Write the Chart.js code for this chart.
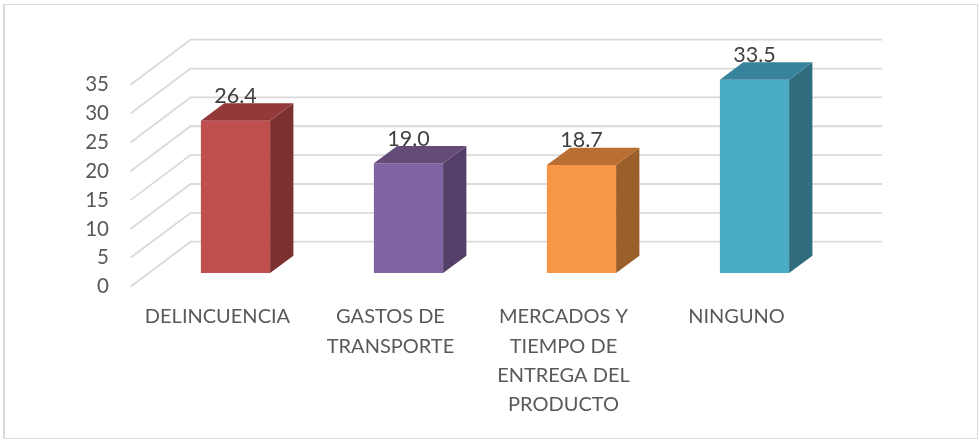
<!DOCTYPE html>
<html>
<head>
<meta charset="utf-8">
<style>
  html, body { margin: 0; padding: 0; background: #fff; }
  #wrap { width: 978px; height: 440px; }
</style>
<script src="https://cdn.jsdelivr.net/npm/chart.js@4/dist/chart.umd.min.js"></script>
</head>
<body>
<div id="wrap"><canvas id="chart" width="978" height="440"></canvas></div>
<script>
const categories = [
  ["DELINCUENCIA"],
  ["GASTOS DE", "TRANSPORTE"],
  ["MERCADOS Y", "TIEMPO DE", "ENTREGA DEL", "PRODUCTO"],
  ["NINGUNO"],
];
const values = [26.4, 19.0, 18.7, 33.5];
const yTicks = [0, 5, 10, 15, 20, 25, 30, 35];

const frontColors = ["#C0504D", "#8064A2", "#F79646", "#4BACC6"];
const topColors = ["#93393A", "#644B78", "#BA6F32", "#37839B"];
const sideColors = ["#7C302F", "#533F68", "#9B5F2A", "#2F6C7D"];

const FONT = "Lato, Carlito, sans-serif";
const GRID_COLOR = "#DADADA";

// profundidade da barra e da parede, em px
const BAR_DX = 23.3, BAR_DY = 17.3;
const WALL_DX = 60, WALL_DY = 45;
const WALL_LEFT = 130.5, WALL_RIGHT = 882;
const WALL_FRONT_OFFSET = 13.7; // o 0 da parede fica abaixo da base das barras

function poly(ctx, color, pts) {
  ctx.fillStyle = color;
  ctx.beginPath();
  pts.forEach((p, i) => (i ? ctx.lineTo(p[0], p[1]) : ctx.moveTo(p[0], p[1])));
  ctx.closePath();
  ctx.fill();
}

const frame3d = {
  id: "frame3d",
  beforeDraw(chart) {
    const ctx = chart.ctx;
    ctx.save();
    ctx.fillStyle = "#fff";
    ctx.fillRect(0, 0, chart.width, chart.height);
    // moldura: o lado esquerdo é mais grosso no original
    ctx.fillStyle = "#D9D9D9";
    ctx.fillRect(3, 4, 2, 435);
    ctx.fillRect(3, 4, 975, 1);
    ctx.fillRect(977, 4, 1, 435);
    ctx.fillRect(3, 438, 975, 1);
    ctx.restore();
  },
  beforeDatasetsDraw(chart) {
    const ctx = chart.ctx;
    const y = chart.scales.y;
    ctx.save();
    ctx.strokeStyle = GRID_COLOR;
    ctx.lineWidth = 1.8;
    yTicks.forEach((v) => {
      const py = y.getPixelForValue(v) + WALL_FRONT_OFFSET;
      ctx.beginPath();
      ctx.moveTo(WALL_LEFT, py);
      ctx.lineTo(WALL_LEFT + WALL_DX, py - WALL_DY);
      ctx.lineTo(WALL_RIGHT, py - WALL_DY);
      ctx.stroke();
    });
    ctx.restore();
  },
  afterDatasetsDraw(chart) {
    const ctx = chart.ctx;
    const meta = chart.getDatasetMeta(0);
    ctx.save();
    meta.data.forEach((bar, i) => {
      const l = bar.x - bar.width / 2, r = bar.x + bar.width / 2;
      const t = bar.y, b = bar.base;
      poly(ctx, sideColors[i], [[r, t], [r + BAR_DX, t - BAR_DY], [r + BAR_DX, b - BAR_DY], [r, b]]);
      poly(ctx, topColors[i], [[l, t], [l + BAR_DX, t - BAR_DY], [r + BAR_DX, t - BAR_DY], [r, t]]);
      // rótulo de valor
      ctx.fillStyle = "#404040";
      ctx.font = "21.5px " + FONT;
      ctx.textAlign = "center";
      ctx.textBaseline = "alphabetic";
      ctx.fillText(values[i].toFixed(1), bar.x, t - BAR_DY - 0.5);
    });
    ctx.restore();
  },
};

new Chart(document.getElementById("chart"), {
  type: "bar",
  data: {
    labels: categories,
    datasets: [{ data: values, backgroundColor: frontColors, borderWidth: 0, barPercentage: 0.4, categoryPercentage: 1 }],
  },
  plugins: [frame3d],
  options: {
    responsive: false,
    animation: false,
    layout: { padding: { top: 71, left: 0, right: 137, bottom: 0 } },
    plugins: { legend: { display: false }, tooltip: { enabled: false } },
    scales: {
      x: {
        grid: { display: false, drawTicks: false },
        border: { display: false },
        afterFit(scale) { scale.height = 167; },
        ticks: {
          color: "#595959",
          font: { family: FONT, size: 20, lineHeight: 1.47 },
          padding: 29,
          labelOffset: -18,
          maxRotation: 0,
          autoSkip: false,
        },
      },
      y: {
        min: 0,
        max: 35,
        grid: { display: false, drawTicks: false },
        border: { display: false },
        afterFit(scale) { scale.width = 149; },
        afterBuildTicks(scale) { scale.ticks = yTicks.map((value) => ({ value })); },
        ticks: {
          color: "#595959",
          font: { family: FONT, size: 20.5 },
          padding: 40,
          labelOffset: 13.7,
        },
      },
    },
  },
});
</script>
</body>
</html>
